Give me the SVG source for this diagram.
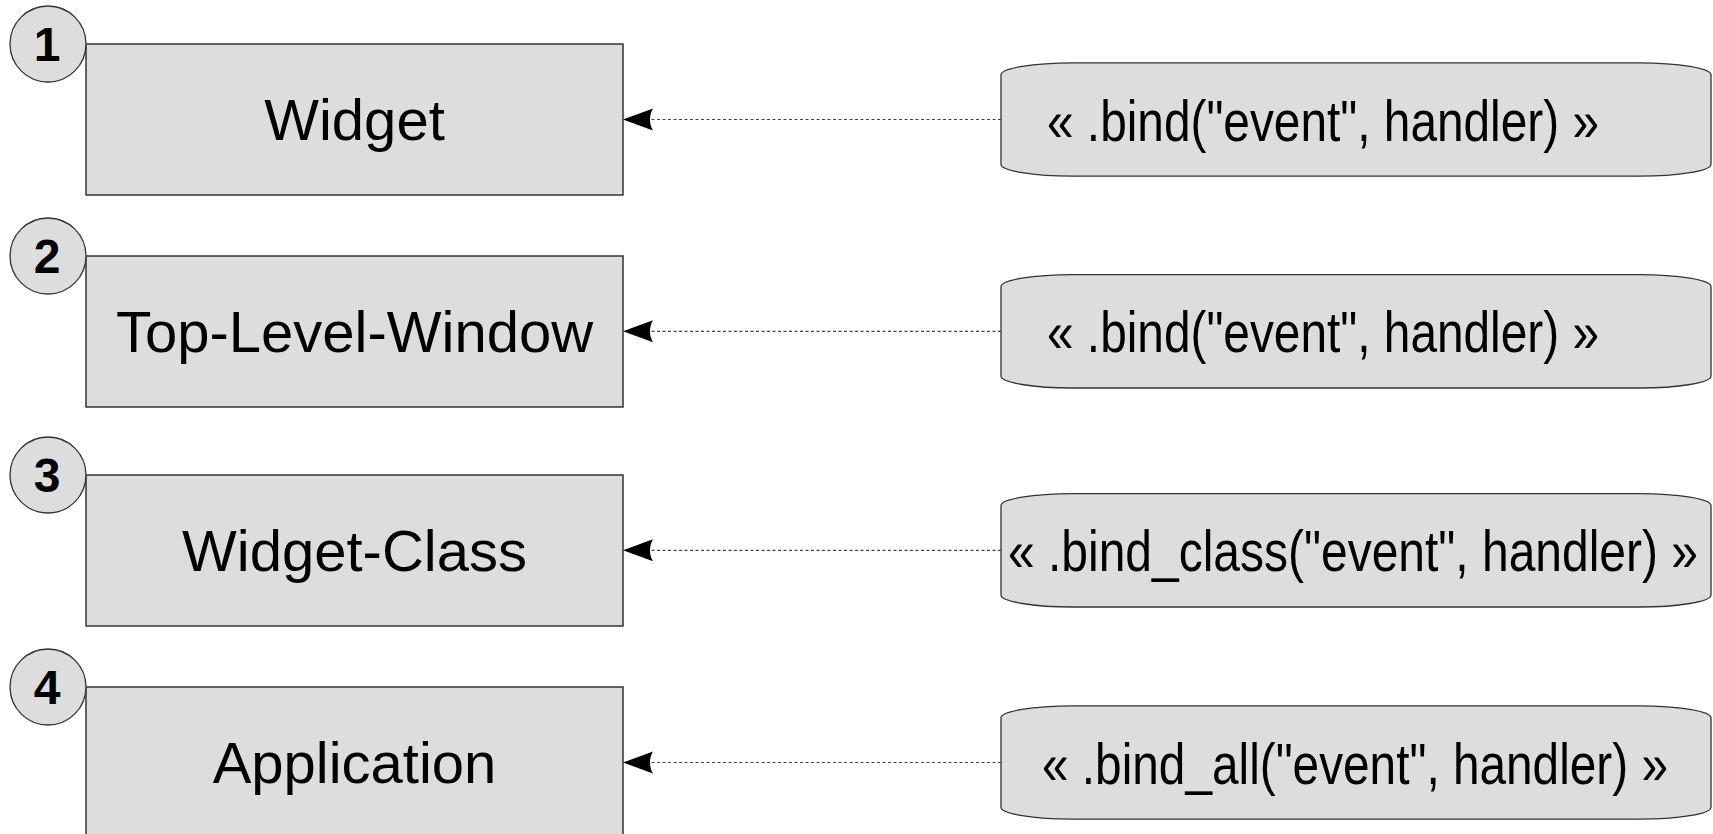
<svg xmlns="http://www.w3.org/2000/svg" width="1713" height="834" viewBox="0 0 1713 834">
  <style>
    .node { fill: #dcdddc; stroke: #333333; stroke-width: 1.5; }
    .bubble { fill: #dcdddc; stroke: #333333; stroke-width: 1.3; }
    .num { font-family: "Liberation Sans", Arial, sans-serif; font-weight: bold; font-size: 48px; fill: #000; text-anchor: middle; }
    .label { font-family: "Liberation Sans", Arial, sans-serif; font-size: 58px; fill: #000; text-anchor: middle; }
    .call { fill: #dcdddc; stroke: #333333; stroke-width: 1.3; }
    .calltext { font-family: "Liberation Sans Narrow", "Liberation Sans", Arial, sans-serif; font-size: 58px; fill: #000; }
    .conn { fill: none; stroke: #444444; stroke-width: 1.2; stroke-dasharray: 3 2.5; }
  </style>
  <rect width="1713" height="834" fill="#ffffff"/>

  <g id="node-widget">
    <rect class="node" x="86" y="44" width="537" height="151"/>
    <text class="label" x="354.5" y="140">Widget</text>
    <circle class="bubble" cx="48" cy="44" r="38"/>
    <text class="num" x="47" y="61">1</text>
  </g>
  <g id="node-toplevel">
    <rect class="node" x="86" y="256" width="537" height="151"/>
    <text class="label" x="354.5" y="352">Top-Level-Window</text>
    <circle class="bubble" cx="48" cy="256" r="38"/>
    <text class="num" x="47" y="273">2</text>
  </g>
  <g id="node-widgetclass">
    <rect class="node" x="86" y="475" width="537" height="151"/>
    <text class="label" x="354.5" y="571">Widget-Class</text>
    <circle class="bubble" cx="48" cy="475" r="38"/>
    <text class="num" x="47" y="492">3</text>
  </g>
  <g id="node-application">
    <rect class="node" x="86" y="687" width="537" height="151"/>
    <text class="label" x="354.5" y="783">Application</text>
    <circle class="bubble" cx="48" cy="687" r="38"/>
    <text class="num" x="47" y="704">4</text>
  </g>

  <g id="call-bind-1">
    <rect class="call" x="1001" y="62.8" width="710" height="113.4" rx="72" ry="12"/>
    <text class="calltext" x="1047" y="140.5" textLength="552" lengthAdjust="spacingAndGlyphs">« .bind("event", handler) »</text>
  </g>
  <g id="call-bind-2">
    <rect class="call" x="1001" y="274.6" width="710" height="113.4" rx="72" ry="12"/>
    <text class="calltext" x="1047" y="352.3" textLength="552" lengthAdjust="spacingAndGlyphs">« .bind("event", handler) »</text>
  </g>
  <g id="call-bind-class">
    <rect class="call" x="1001" y="493.6" width="710" height="113.4" rx="72" ry="12"/>
    <text class="calltext" x="1008" y="571.3" textLength="690" lengthAdjust="spacingAndGlyphs">« .bind_class("event", handler) »</text>
  </g>
  <g id="call-bind-all">
    <rect class="call" x="1001" y="705.8" width="710" height="113.4" rx="72" ry="12"/>
    <text class="calltext" x="1042" y="783.5" textLength="626" lengthAdjust="spacingAndGlyphs">« .bind_all("event", handler) »</text>
  </g>

  <g id="connectors">
    <path class="conn" d="M1001,119.5 H640" />
    <path class="conn" d="M1001,331.3 H640" />
    <path class="conn" d="M1001,550.3 H640" />
    <path class="conn" d="M1001,762.5 H640" />
    <path d="M623,119.5 L653,108.5 C649,114.5 649,124.5 653,130.5 Z" fill="#000"/>
    <path d="M623,331.3 L653,320.3 C649,326.3 649,336.3 653,342.3 Z" fill="#000"/>
    <path d="M623,550.3 L653,539.3 C649,545.3 649,555.3 653,561.3 Z" fill="#000"/>
    <path d="M623,762.5 L653,751.5 C649,757.5 649,767.5 653,773.5 Z" fill="#000"/>
  </g>
</svg>
